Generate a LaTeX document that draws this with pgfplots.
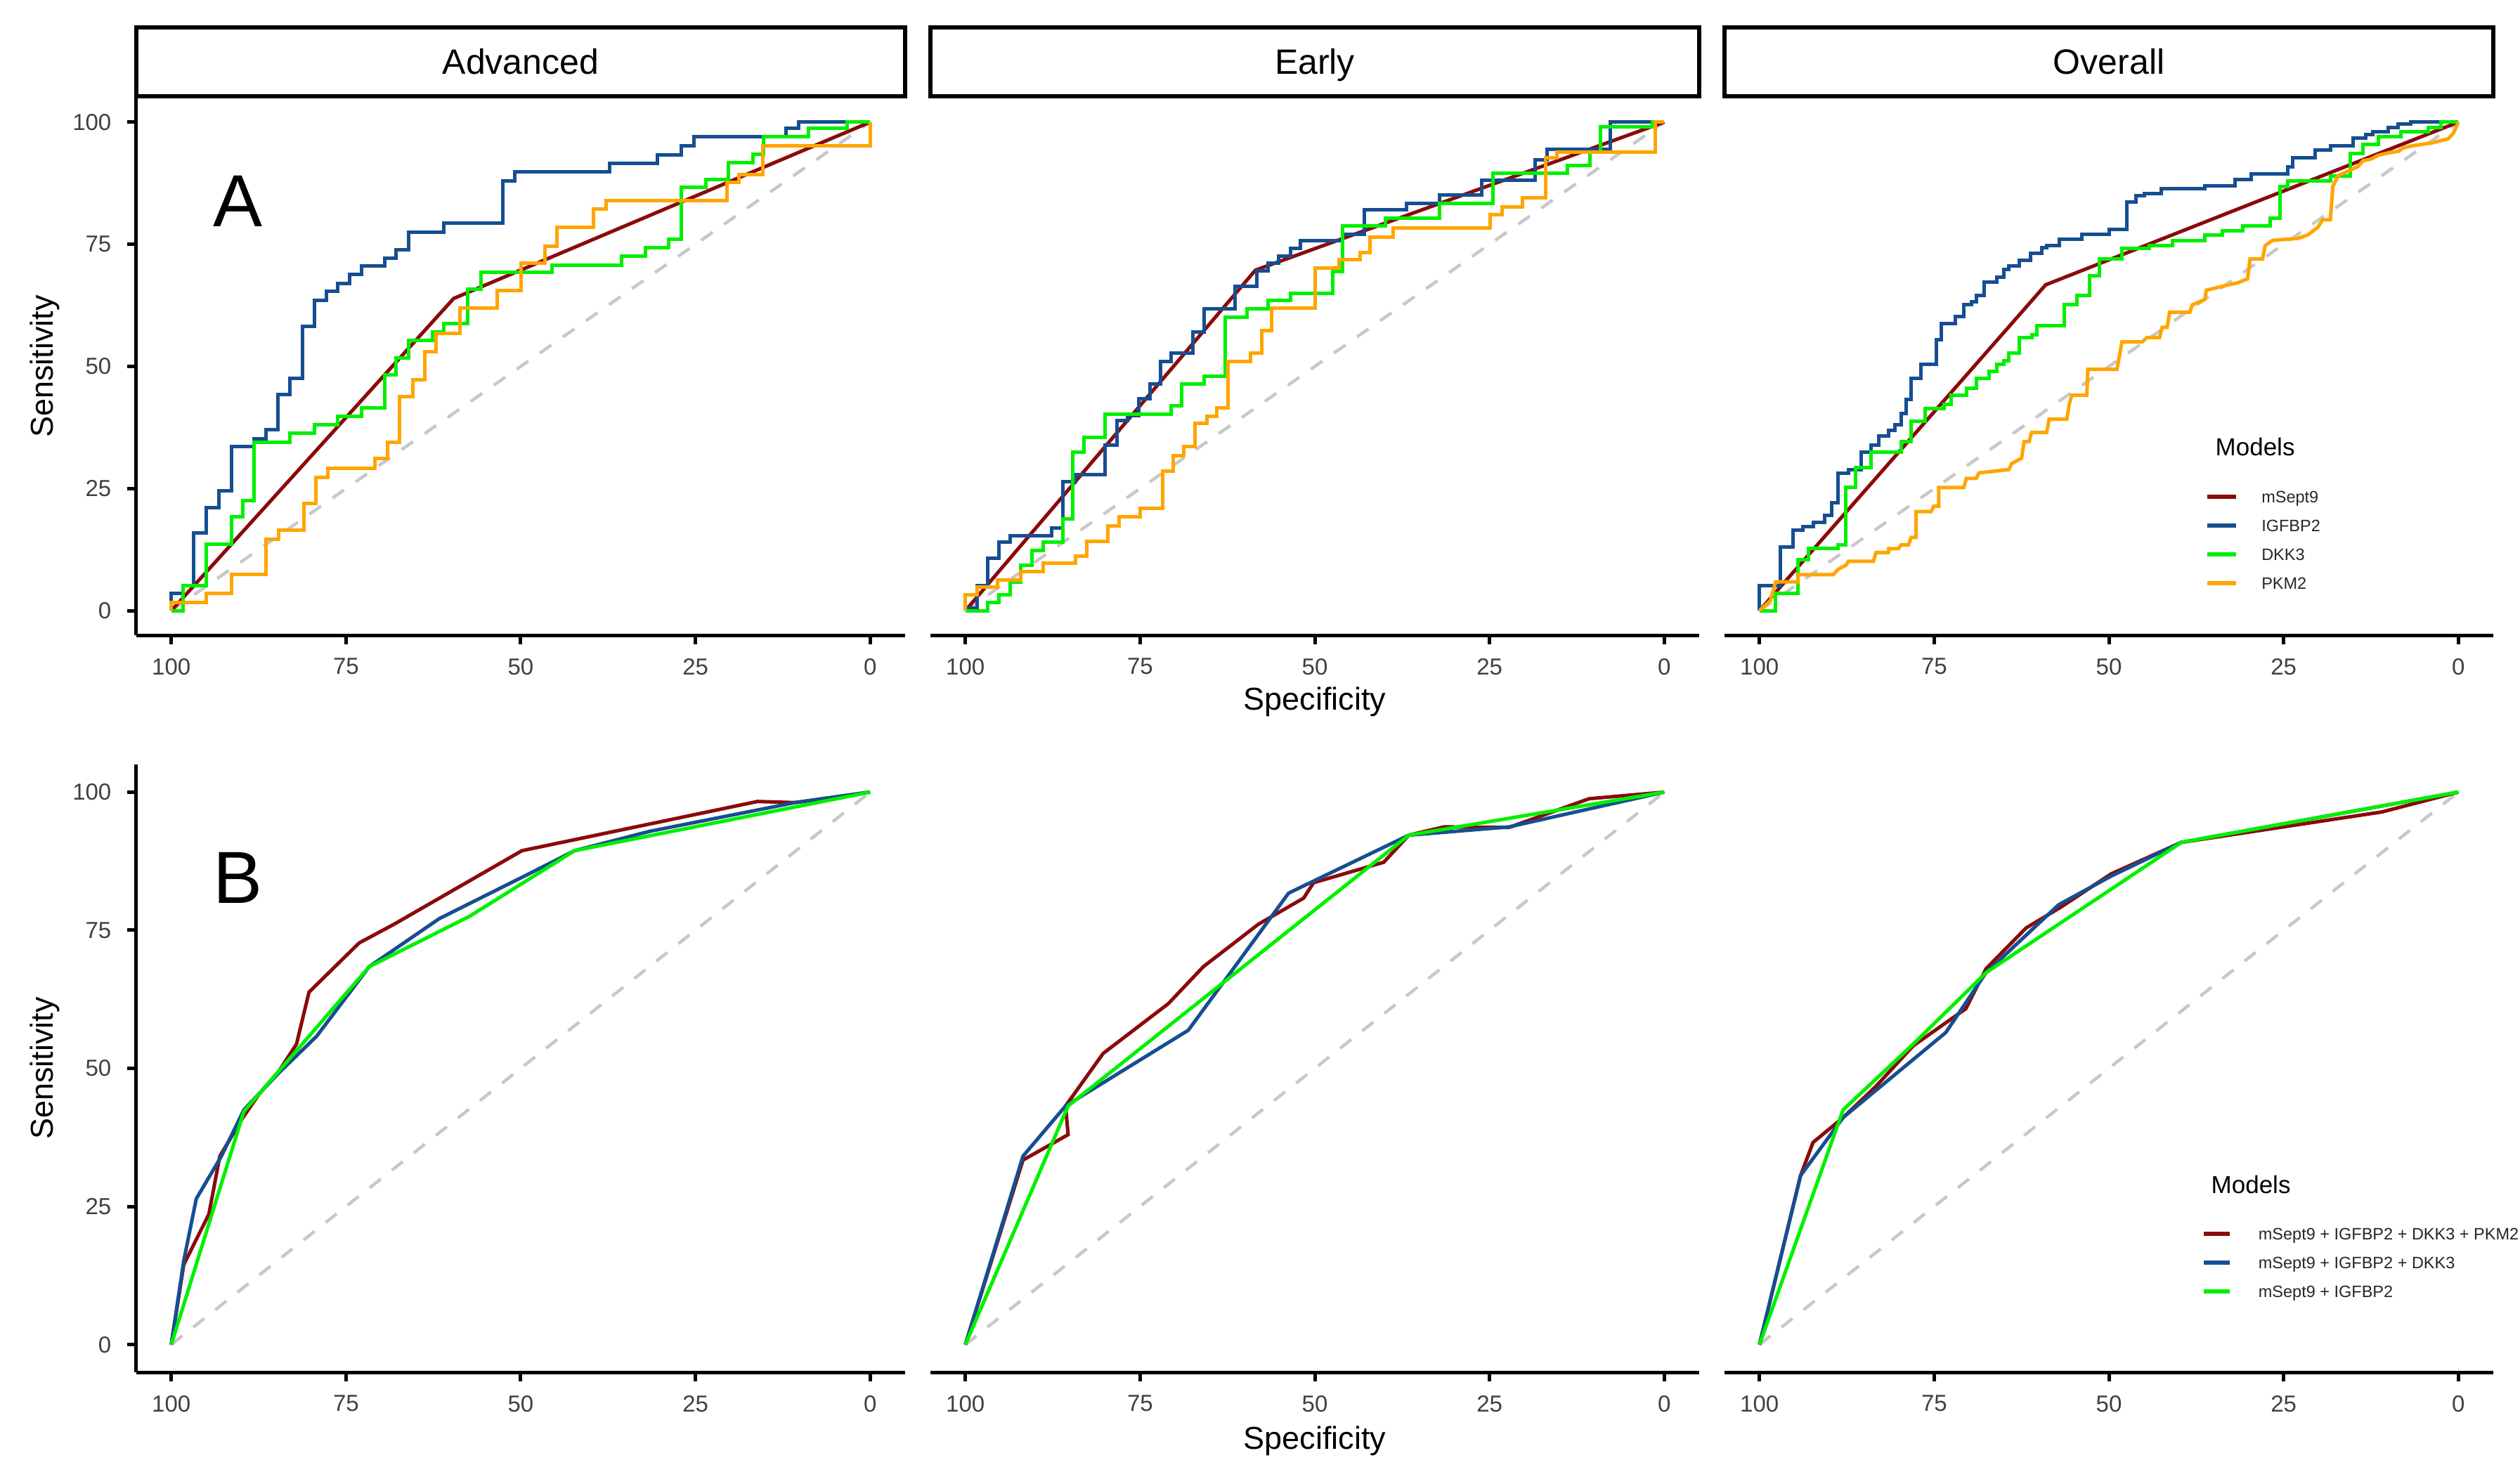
\documentclass[border=0pt]{standalone}
\usepackage{fontspec}
\setmainfont{Liberation Sans}
\usepackage{pgfplots}
\pgfplotsset{compat=1.18}

\definecolor{cSept}{RGB}{139,10,10}
\definecolor{cIGF}{RGB}{22,78,145}
\definecolor{cDKK}{RGB}{0,240,0}
\definecolor{cPKM}{RGB}{255,165,0}
\definecolor{cDiag}{RGB}{200,200,200}

% 1 px of the reference = 0.2pt
\pgfplotsset{
  rocpanel/.style={
    scale only axis, width=218.8pt,
    xmin=-5, xmax=105, ymin=-5, ymax=105, x dir=reverse,
    axis x line*=bottom, axis y line*=left,
    axis line style={line width=1pt, black},
    xtick={0,25,50,75,100}, ytick={0,25,50,75,100},
    tick align=outside, major tick length=2.6pt,
    tick style={line width=1pt, black},
    ticklabel style={font=\fontsize{6.6}{7}\selectfont, text=black!75},
    /pgf/number format/assume math mode=true,
    xticklabel shift=0.5pt, yticklabel shift=1pt,
    label style={font=\fontsize{9}{10}\selectfont},
  },
  firstpanel/.style={
    ylabel={Sensitivity},
    ylabel style={at={(axis description cs:-0.119,0.5)}, anchor=center}},
  otherpanel/.style={hide y axis},
  diag/.style={cDiag, line width=0.9pt, dash pattern=on 4pt off 4pt, forget plot},
  roc/.style={line width=1pt, no marks},
  step/.style={roc, const plot mark right},
  keyed/.style={
    legend cell align=left,
    legend image code/.code={\draw[##1, line width=1.2pt] (0pt,0pt) -- (#1,0pt); \path (15pt,0pt);},
    legend style={draw=none, fill=none, inner sep=0pt, outer sep=0pt,
      row sep=0pt, column sep=0pt, font=\fontsize{4.7}{5}\selectfont,
      text=black!85,
      nodes={inner sep=0pt, text height=5.8pt, text depth=2.4pt}},
  },
}

\begin{document}
\begin{tikzpicture}
\useasboundingbox (0,0) rectangle (717.2pt,418.8pt);

% facet strips
\foreach \x/\lab in {38.8/Advanced, 264.8/Early, 490.8/Overall}{
  \draw[line width=1.2pt, fill=white] (\x pt,391.4pt) rectangle ++(218.8pt,19.6pt);
  \node[font=\fontsize{10}{12}\selectfont, anchor=base, inner sep=0pt] at ([xshift=109.4pt]\x pt,397.6pt) {\lab};
}

% ---------- row A ----------
\begin{axis}[rocpanel, firstpanel, height=153pt, at={(38.8pt,238pt)}, anchor=south west]
\addplot[diag] coordinates {(100,0)(0,100)};
\addplot[roc, cSept] coordinates {(100,0)(59.6,63.9)(0,100)};
\addplot[step, cIGF] coordinates {(100,0)(98.35,3.6)(96.78,5.2)(94.99,15.9)(93.2,21.1)(91.42,24.6)(88.2,33.6)(86.41,35.2)(84.76,37.1)(83.05,44.2)(81.26,47.6)(79.47,58.2)(77.83,63.5)(76.18,65.4)(74.46,67)(72.82,68.8)(69.46,70.5)(67.81,72.2)(66.02,73.9)(61.02,77.5)(52.57,79.4)(50.86,88)(37.27,89.8)(30.47,91.5)(27.04,93.3)(25.25,95.2)(12.02,97)(10.23,98.7)(0,100)};
\addplot[step, cDKK] coordinates {(100,0)(98.35,0)(94.99,5.2)(91.42,13.6)(89.77,19.2)(88.2,22.6)(83.05,34.5)(79.47,36.4)(76.18,38.1)(72.82,39.8)(69.46,41.5)(67.81,48.3)(66.02,51.7)(62.66,55.3)(61.02,57)(57.58,58.8)(55.65,65.8)(45.49,69.2)(35.62,70.7)(32.19,72.6)(28.83,74.3)(27.04,76)(23.46,86.6)(20.24,88.3)(16.81,91.7)(15.24,93.4)(8.8,97)(3.29,98.7)(0,100)};
\addplot[step, cPKM] coordinates {(100,0)(94.99,1.7)(91.42,3.6)(86.41,7.4)(84.62,14.6)(81.04,16.5)(79.26,22)(77.61,27.3)(70.89,29.2)(69.03,31.1)(67.31,34.5)(65.45,43.8)(63.73,47.3)(62.09,53)(58.66,56.7)(53.36,62)(49.93,65.6)(46.57,71.1)(44.78,74.6)(39.56,78.5)(37.77,82.2)(20.46,83.9)(18.81,87.7)(15.38,89.2)(0,95.1)(0,100)};
\node[font=\fontsize{21}{24}\selectfont] at (axis description cs:0.132,0.808) {A};
\end{axis}

\begin{axis}[rocpanel, otherpanel, height=153pt, at={(264.8pt,238pt)}, anchor=south west,
  xlabel={Specificity}, xlabel style={at={(axis description cs:0.5,-0.124)}, anchor=center}]
\addplot[diag] coordinates {(100,0)(0,100)};
\addplot[roc, cSept] coordinates {(100,0)(58.5,69.7)(0,100)};
\addplot[step, cIGF] coordinates {(100,0)(98.35,0.6)(96.78,5.2)(95.21,10.8)(93.56,14.0)(87.63,15.4)(86.05,17.0)(84.26,26.4)(79.97,27.9)(78.33,33.9)(76.75,38.9)(75.18,40.0)(73.53,43.4)(72.10,46.4)(70.53,51.0)(67.45,52.7)(65.88,57.0)(61.37,61.8)(58.30,66.4)(56.72,69.5)(55.15,71.1)(53.50,72.6)(52.07,74.2)(45.99,75.8)(42.92,77.1)(36.84,82.0)(32.19,83.3)(26.11,85.1)(18.45,88.1)(16.81,92.3)(7.73,94.4)(1.65,100)(0,100)};
\addplot[step, cDKK] coordinates {(100,0)(96.78,0)(95.21,1.7)(93.56,3.3)(92.13,5.9)(90.49,9.3)(88.91,12.3)(86.05,14.0)(84.62,18.8)(83.05,32.4)(79.97,35.5)(70.53,40.2)(69.03,41.9)(65.88,46.4)(62.80,48.0)(59.73,60.1)(56.72,61.8)(53.50,63.5)(47.42,65.0)(45.99,69.4)(39.91,78.8)(32.19,80.3)(24.53,83.3)(13.81,89.6)(10.59,91.1)(9.16,93.8)(1.65,99.1)(0,100)};
\addplot[step, cPKM] coordinates {(100,0)(98.35,3.3)(95.35,4.8)(92.13,6.3)(88.91,8.0)(84.26,9.7)(82.62,11.2)(79.61,14.2)(78.04,17.3)(74.96,19.2)(71.75,20.9)(70.31,28.6)(68.74,31.8)(67.10,33.6)(65.45,38.3)(64.02,39.8)(62.45,41.5)(59.23,51.0)(57.58,52.7)(56.15,57.3)(49.93,62.0)(46.57,70.1)(43.49,71.8)(42.06,73.3)(38.84,76.4)(24.89,78.3)(23.25,81.1)(20.24,82.6)(17.02,84.5)(15.38,92.7)(1.29,93.9)(0,100)};
\end{axis}

\begin{axis}[rocpanel, otherpanel, keyed=8.2pt, height=153pt, at={(490.8pt,238pt)}, anchor=south west,
  legend style={at={(axis description cs:0.625,0.2843)}, anchor=north west}]
\addplot[diag] coordinates {(100,0)(0,100)};
\addplot[roc, cSept] coordinates {(100,0)(59.05,66.7)(0,100)};
\addlegendentry{mSept9}
\addplot[step, cIGF] coordinates {(100,0)(96.98,5.1)(95.19,13.1)(93.75,16.5)(92.31,17.2)(90.66,18.1)(89.66,19.5)(88.72,22.1)(87.28,28.2)(85.49,28.9)(84.05,32.4)(82.97,33.9)(81.54,35.8)(80.60,36.9)(79.74,38.0)(79.02,40.3)(78.30,43.3)(76.87,47.6)(74.71,50.5)(73.99,55.4)(71.98,58.8)(70.76,60.2)(69.68,62.6)(68.97,63.3)(67.89,64.5)(66.09,67.3)(65.01,68.3)(64.30,69.8)(62.86,70.5)(61.21,71.7)(59.63,73.2)(58.91,74.3)(57.11,74.8)(53.88,76.0)(49.93,77.1)(47.41,78.1)(46.12,83.7)(44.90,84.9)(42.53,85.4)(36.28,86.4)(31.97,86.9)(29.60,88.3)(24.43,89.4)(23.71,90.9)(20.47,92.7)(18.32,94.3)(15.09,95.1)(13.29,96.7)(12.21,97.4)(10.06,98.0)(8.62,98.9)(6.82,99.6)(0,100)};
\addlegendentry{IGFBP2}
\addplot[step, cDKK] coordinates {(100,0)(97.70,0)(94.47,3.6)(93.03,10.4)(88.72,12.8)(87.64,13.5)(86.21,25.2)(84.05,29.3)(79.74,32.4)(78.30,34.6)(76.29,38.8)(73.63,41.4)(72.56,42.2)(70.40,44.1)(68.97,45.6)(67.17,47.5)(66.09,49.0)(65.01,50.5)(64.30,51.2)(62.86,52.8)(61.06,55.9)(60.34,56.5)(56.39,58.4)(54.60,62.6)(52.80,64.5)(51.36,68.6)(48.13,72.0)(44.18,74.1)(40.95,74.8)(36.28,75.8)(33.76,76.9)(30.89,77.7)(26.94,78.8)(25.50,80.3)(24.43,86.8)(18.32,87.9)(15.45,89.0)(13.65,93.6)(11.49,95.5)(8.26,97.0)(4.31,98.0)(2.51,98.9)(0,100)};
\addlegendentry{DKK3}
\addplot[roc, cPKM] coordinates {(100,0)(98.42,2.1)(97.70,5.9)(94.47,5.9)(94.47,7.4)(89.44,7.4)(88.72,8.5)(87.64,9.3)(87.28,10.1)(83.69,10.1)(83.33,11.9)(81.54,11.9)(81.54,12.7)(80.10,12.7)(79.74,13.5)(78.66,13.5)(78.30,15.0)(77.59,15.0)(77.59,20.3)(75.43,20.3)(75.07,21.4)(74.35,21.4)(74.35,25.2)(70.76,25.2)(70.40,27.1)(68.97,27.1)(68.61,28.2)(64.30,28.9)(63.94,30.1)(62.50,31.2)(62.14,34.6)(61.42,34.6)(61.06,36.5)(58.91,36.5)(58.55,39.2)(56.03,39.2)(55.68,42.2)(55.32,44.1)(53.16,44.1)(53.02,49.4)(48.85,49.4)(48.13,55.0)(45.26,55.0)(44.54,55.9)(42.74,55.9)(42.39,58.0)(41.67,58.0)(41.31,61.1)(38.43,61.1)(38.07,62.6)(36.28,63.7)(36.06,65.6)(33.76,66.4)(31.61,67.1)(30.17,67.9)(29.81,72.0)(28.02,72.0)(27.66,74.7)(26.58,75.8)(22.99,76.2)(21.55,76.9)(20.11,78.5)(19.40,80.0)(18.32,80.0)(17.96,86.8)(17.24,89.0)(15.45,90.2)(14.37,90.9)(13.65,92.1)(12.57,92.4)(11.49,93.2)(10.06,93.7)(8.62,94.0)(7.90,94.7)(6.82,95.1)(3.59,95.8)(1.44,96.6)(0.72,97.7)(0,100)};
\addlegendentry{PKM2}
\end{axis}
\node[anchor=west, font=\fontsize{7}{8}\selectfont] at (627pt,291.6pt) {Models};

% ---------- row B ----------
\begin{axis}[rocpanel, firstpanel, height=173pt, at={(38.8pt,28.2pt)}, anchor=south west]
\addplot[diag] coordinates {(100,0)(0,100)};
\addplot[roc, cSept] coordinates {(100,0)(98.21,14.5)(94.62,23.6)(93.05,34.1)(89.75,41.1)(87.46,45.3)(84.59,49.5)(82.08,54.4)(80.29,63.8)(73.12,72.7)(68.10,76.1)(49.82,89.4)(16.13,98.3)(10.75,98.1)(0,100)};
\addplot[roc, cIGF] coordinates {(100,0)(98.21,15.2)(96.42,26.4)(92.83,34.1)(89.61,42.5)(84.59,49.2)(79.21,55.8)(71.68,68.4)(61.65,77.1)(49.46,84.8)(42.29,89.4)(31.54,92.9)(10.75,98.1)(0,100)};
\addplot[roc, cDKK] coordinates {(100,0)(89.61,42.2)(71.68,68.4)(57.35,77.5)(42.29,89.4)(0,100)};
\node[font=\fontsize{21}{24}\selectfont] at (axis description cs:0.132,0.814) {B};
\end{axis}

\begin{axis}[rocpanel, otherpanel, height=173pt, at={(264.8pt,28.2pt)}, anchor=south west,
  xlabel={Specificity}, xlabel style={at={(axis description cs:0.5,-0.113)}, anchor=center}]
\addplot[diag] coordinates {(100,0)(0,100)};
\addplot[roc, cSept] coordinates {(100,0)(91.76,33.4)(85.30,38.0)(85.66,43.2)(80.29,52.7)(70.97,61.7)(65.95,68.4)(58.06,76.1)(51.61,80.8)(50.18,83.6)(40.14,87.3)(36.56,92.2)(31.54,93.7)(22.22,93.6)(10.75,98.8)(0,100)};
\addplot[roc, cIGF] coordinates {(100,0)(91.76,34.1)(85.66,43.2)(68.10,56.9)(53.76,81.7)(50.18,83.9)(36.56,92.2)(22.22,93.7)(0,100)};
\addplot[roc, cDKK] coordinates {(100,0)(85.30,43.2)(36.56,92.2)(0,100)};
\end{axis}

\begin{axis}[rocpanel, otherpanel, keyed=7.4pt, height=173pt, at={(490.8pt,28.2pt)}, anchor=south west,
  legend style={at={(axis description cs:0.621,0.252)}, anchor=north west}]
\addplot[diag] coordinates {(100,0)(0,100)};
\addplot[roc, cSept] coordinates {(100,0)(94.12,30.6)(92.33,36.6)(88.03,41.1)(83.37,46.7)(77.99,54.1)(70.47,60.8)(67.60,68.0)(61.86,75.4)(56.85,79.2)(49.68,85.2)(39.64,90.9)(10.97,96.4)(0,100)};
\addlegendentry{mSept9 + IGFBP2 + DKK3 + PKM2}
\addplot[roc, cIGF] coordinates {(100,0)(94.12,30.6)(88.03,41.1)(73.33,56.5)(67.60,67.3)(57.20,79.6)(49.68,84.8)(39.64,90.9)(0,100)};
\addlegendentry{mSept9 + IGFBP2 + DKK3}
\addplot[roc, cDKK] coordinates {(100,0)(88.03,42.5)(77.99,54.4)(67.60,67.3)(39.64,90.9)(0,100)};
\addlegendentry{mSept9 + IGFBP2}
\end{axis}
\node[anchor=west, font=\fontsize{7}{8}\selectfont] at (625.8pt,81.6pt) {Models};

\end{tikzpicture}
\end{document}
